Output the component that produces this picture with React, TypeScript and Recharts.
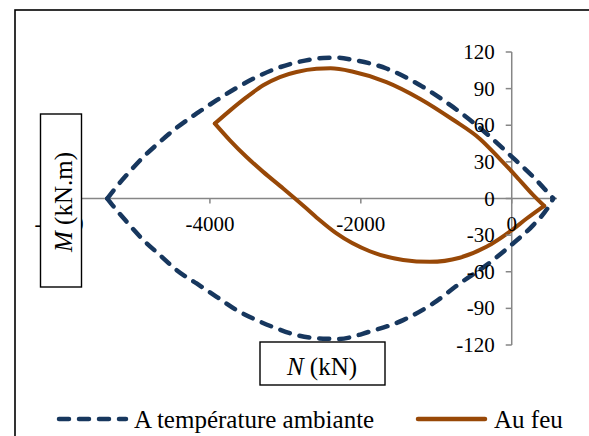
import React from 'react';
import { LineChart, Line, XAxis, YAxis, ReferenceLine } from 'recharts';

// ---- data (N in kN, M in kN.m) ----
const ambientUpper = [
  { n: -5360, m: 0 }, { n: -5240, m: 9.5 }, { n: -5100, m: 19.5 }, { n: -4890, m: 33.5 },
  { n: -4670, m: 46 }, { n: -4440, m: 58 }, { n: -4180, m: 69.5 }, { n: -3910, m: 80.5 },
  { n: -3650, m: 90.5 }, { n: -3380, m: 99.5 }, { n: -3120, m: 106.5 }, { n: -2850, m: 111.5 },
  { n: -2500, m: 115 }, { n: -2300, m: 115.3 }, { n: -2100, m: 113.5 }, { n: -1660, m: 106.5 },
  { n: -1220, m: 93 }, { n: -780, m: 75 }, { n: -340, m: 53.5 }, { n: -30, m: 36 },
  { n: 280, m: 18 }, { n: 550, m: 0 },
];
const ambientLower = [
  { n: -5360, m: 0 }, { n: -5236, m: -9.6 }, { n: -5104, m: -19 }, { n: -4883, m: -34 },
  { n: -4662, m: -46.4 }, { n: -4441, m: -58.7 }, { n: -4176, m: -69.6 }, { n: -3911, m: -80.5 },
  { n: -3646, m: -91.4 }, { n: -3382, m: -99.6 }, { n: -3117, m: -106.4 }, { n: -2852, m: -111.9 },
  { n: -2500, m: -114.8 }, { n: -2300, m: -115 }, { n: -1881, m: -109 }, { n: -1439, m: -99.6 },
  { n: -1042, m: -86 }, { n: -689, m: -69.6 }, { n: -335, m: -54.6 }, { n: 18, m: -36.8 },
  { n: 282, m: -22 }, { n: 490, m: -6.5 }, { n: 550, m: 0 },
];
const fireUpper = [
  { n: -3934, m: 61.4 }, { n: -3735, m: 72 }, { n: -3514, m: 83 }, { n: -3294, m: 92.7 },
  { n: -3073, m: 99.5 }, { n: -2852, m: 103.6 }, { n: -2587, m: 106.2 }, { n: -2400, m: 106.6 },
  { n: -2102, m: 103.8 }, { n: -1660, m: 95.4 }, { n: -1219, m: 81.8 }, { n: -777, m: 64.5 },
  { n: -424, m: 49 }, { n: -159, m: 32.5 }, { n: 62, m: 18 }, { n: 282, m: 3 },
  { n: 430, m: -6 },
];
const fireLower = [
  { n: -3934, m: 61.4 }, { n: -3735, m: 47.7 }, { n: -3514, m: 34 }, { n: -3294, m: 21.8 },
  { n: -3029, m: 8.2 }, { n: -2719, m: -8.2 }, { n: -2543, m: -17.8 }, { n: -2322, m: -28.6 },
  { n: -1881, m: -43.2 }, { n: -1439, m: -50.3 }, { n: -1086, m: -51.9 }, { n: -689, m: -48.5 },
  { n: -335, m: -39.6 }, { n: -4, m: -26.2 }, { n: 194, m: -16.6 }, { n: 430, m: -6 },
];
const xTicks = [-6000, -4000, -2000, 0];
const yTicks = [-120, -90, -60, -30, 0, 30, 60, 90, 120];
const seriesNames = ['A température ambiante', 'Au feu'];
const xTitle = 'N';
const xUnit = ' (kN)';
const yTitle = 'M';
const yUnit = ' (kN.m)';

// ---- layout / style ----
const W = 589;
const H = 436;
const MARGIN = { top: 52, right: 32, bottom: 90, left: 58 };
const AXIS_W = 1;
const AXIS_H = 1;
const X_DOMAIN: [number, number] = [-6000, 600];
const Y_DOMAIN: [number, number] = [-120, 120];
const PLOT_L = MARGIN.left + AXIS_W;
const PLOT_W = W - PLOT_L - MARGIN.right;
const PLOT_H = H - MARGIN.top - MARGIN.bottom - AXIS_H;
const ZERO_X = PLOT_L + (PLOT_W * (0 - X_DOMAIN[0])) / (X_DOMAIN[1] - X_DOMAIN[0]);
const ZERO_Y = MARGIN.top + (PLOT_H * (Y_DOMAIN[1] - 0)) / (Y_DOMAIN[1] - Y_DOMAIN[0]);
const FONT = '"Liberation Serif", "Times New Roman", serif';
const AXIS = '#868686';
const BLUE = '#17375E';
const ORANGE = '#984807';

const XTick = (props: any) => {
  const { x, payload } = props;
  return (
    <g>
      <line x1={x} x2={x} y1={ZERO_Y} y2={ZERO_Y + 5} stroke={AXIS} strokeWidth={1.5} />
      <text x={x} y={ZERO_Y + 32} textAnchor="middle" fontFamily={FONT} fontSize={21} fill="#000">
        {payload.value}
      </text>
    </g>
  );
};

const YTick = (props: any) => {
  const { y, payload } = props;
  return (
    <g>
      <line x1={ZERO_X - 6} x2={ZERO_X} y1={y} y2={y} stroke={AXIS} strokeWidth={1.5} />
      <text x={ZERO_X - 17} y={y + 7} textAnchor="end" fontFamily={FONT} fontSize={21} fill="#000">
        {payload.value}
      </text>
    </g>
  );
};

export default function App() {
  return (
    <div style={{ position: 'absolute', left: 0, top: 0, width: W, height: H, overflow: 'hidden', background: '#fff' }}>
      <LineChart width={W} height={H} margin={MARGIN}>
        <XAxis
          type="number"
          dataKey="n"
          domain={X_DOMAIN}
          ticks={xTicks}
          interval={0}
          height={AXIS_H}
          axisLine={false}
          tickLine={false}
          tick={XTick}
          allowDataOverflow
        />
        <YAxis
          type="number"
          dataKey="m"
          domain={Y_DOMAIN}
          ticks={yTicks}
          interval={0}
          width={AXIS_W}
          axisLine={false}
          tickLine={false}
          tick={YTick}
          allowDataOverflow
        />
        <ReferenceLine y={0} stroke={AXIS} strokeWidth={1.5} />
        <ReferenceLine x={0} stroke={AXIS} strokeWidth={1.5} />
        <Line data={ambientUpper} dataKey="m" type="monotone" stroke={BLUE} strokeWidth={4.5}
          strokeDasharray="10 10" strokeLinecap="round" dot={false} isAnimationActive={false} legendType="none" />
        <Line data={ambientLower} dataKey="m" type="monotone" stroke={BLUE} strokeWidth={4.5}
          strokeDasharray="10 10" strokeLinecap="round" dot={false} isAnimationActive={false} legendType="none" />
        <Line data={fireUpper} dataKey="m" type="monotone" stroke={ORANGE} strokeWidth={4}
          strokeLinecap="round" strokeLinejoin="round" dot={false} isAnimationActive={false} legendType="none" />
        <Line data={fireLower} dataKey="m" type="monotone" stroke={ORANGE} strokeWidth={4}
          strokeLinecap="round" strokeLinejoin="round" dot={false} isAnimationActive={false} legendType="none" />
      </LineChart>
      <svg width={W} height={H} style={{ position: 'absolute', left: 0, top: 0, pointerEvents: 'none' }}>
        {/* outer frame */}
        <rect x={15} y={10} width={W} height={H} fill="none" stroke="#000" strokeWidth={1.6} />
        {/* M title box */}
        <rect x={40.5} y={114} width={41} height={173} fill="#fff" stroke="#000" strokeWidth={1.4} />
        <text transform="translate(71.5,202) rotate(-90)" textAnchor="middle" fontFamily={FONT} fontSize={25} fill="#000">
          <tspan fontStyle="italic">{yTitle}</tspan>
          <tspan>{yUnit}</tspan>
        </text>
        {/* N title box */}
        <rect x={260} y={342} width={125} height={43} fill="#fff" stroke="#000" strokeWidth={1.4} />
        <text x={322} y={375} textAnchor="middle" fontFamily={FONT} fontSize={25} fill="#000">
          <tspan fontStyle="italic">{xTitle}</tspan>
          <tspan>{xUnit}</tspan>
        </text>
        {/* legend */}
        <line x1={59} x2={126} y1={419} y2={419} stroke={BLUE} strokeWidth={4.5} strokeDasharray="10 10" strokeLinecap="round" />
        <text x={134} y={428} fontFamily={FONT} fontSize={25} fill="#000">{seriesNames[0]}</text>
        <line x1={418} x2={485} y1={419} y2={419} stroke={ORANGE} strokeWidth={4.5} strokeLinecap="round" />
        <text x={494} y={428} fontFamily={FONT} fontSize={25} fill="#000">{seriesNames[1]}</text>
      </svg>
    </div>
  );
}
